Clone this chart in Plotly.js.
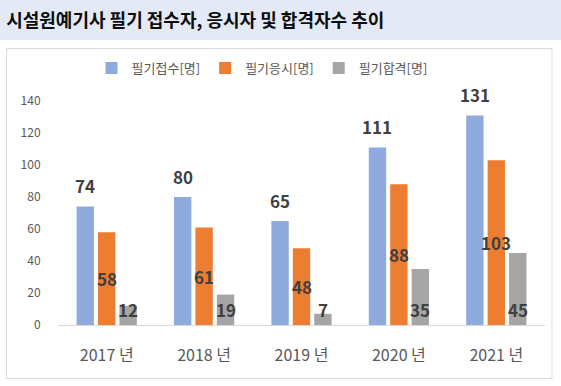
<!DOCTYPE html>
<html>
<head>
<meta charset="utf-8">
<script src="https://cdn.plot.ly/plotly-3.0.1.min.js"></script>
<style>html,body{margin:0;padding:0;background:#fff;}#chart{width:561px;height:386px;}</style>
</head>
<body>
<div id="chart"></div>
<script>
const years = ['2017 년', '2018 년', '2019 년', '2020 년', '2021 년'];
const applicants = [74, 80, 65, 111, 131];
const examinees = [58, 61, 48, 88, 103];
const passers = [12, 19, 7, 35, 45];
const seriesNames = ['필기접수[명]', '필기응시[명]', '필기합격[명]'];
const seriesColors = ['#8faadc', '#ed7d31', '#a5a5a5'];

const FONT = 'Noto Sans CJK KR, Noto Sans, sans-serif';
const bargap = 0.34;
const slot = (1 - bargap) / 3;

const series = [applicants, examinees, passers];
const traces = series.map((vals, k) => ({
  type: 'bar',
  name: seriesNames[k],
  x: years,
  y: vals,
  marker: {color: seriesColors[k]},
  hoverinfo: 'skip'
}));

const labelFont = {family: FONT, size: 17, color: '#404040'};
const annotations = [];
years.forEach((yr, i) => {
  annotations.push({x: i - slot, y: applicants[i], xref: 'x', yref: 'y', yshift: 21,
    text: '<b>' + applicants[i] + '</b>', showarrow: false, font: labelFont});
  annotations.push({x: i, y: examinees[i] / 2, xref: 'x', yref: 'y',
    text: '<b>' + examinees[i] + '</b>', showarrow: false, font: labelFont});
  annotations.push({x: i + slot, y: 0, xref: 'x', yref: 'y', yshift: 16,
    text: '<b>' + passers[i] + '</b>', showarrow: false, font: labelFont});
});

const layout = {
  width: 561, height: 386,
  margin: {l: 58, r: 16, t: 101, b: 61},
  paper_bgcolor: '#ffffff', plot_bgcolor: '#ffffff',
  font: {family: FONT, color: '#595959'},
  title: {
    text: '<b>시설원예기사 필기 접수자, 응시자 및 합격자수 추이</b>',
    font: {family: FONT, size: 18, color: '#0d0d0d'},
    xref: 'container', x: 0.011, xanchor: 'left',
    yref: 'container', y: 0.946, yanchor: 'middle'
  },
  barmode: 'group',
  bargap: bargap,
  bargroupgap: 0.19,
  xaxis: {
    type: 'category', showgrid: false, zeroline: false,
    showline: true, linecolor: '#d9d9d9', linewidth: 1,
    ticks: 'outside', ticklen: 16, tickcolor: 'rgba(0,0,0,0)',
    tickfont: {family: FONT, size: 16, color: '#595959'},
    fixedrange: true
  },
  yaxis: {
    range: [0, 140], dtick: 20, showgrid: false, zeroline: false, showline: false,
    ticks: 'outside', ticklen: 14, tickcolor: 'rgba(0,0,0,0)',
    tickfont: {family: FONT, size: 12, color: '#595959'},
    fixedrange: true
  },
  legend: {
    orientation: 'h', x: 0.419, xanchor: 'center', y: 1.147, yanchor: 'middle',
    font: {family: FONT, size: 13, color: '#595959'},
    itemwidth: 30, bgcolor: 'rgba(0,0,0,0)', itemclick: false, itemdoubleclick: false
  },
  shapes: [
    {type: 'rect', xref: 'paper', yref: 'paper', x0: -58/487, x1: 503/487, y0: 285/224, y1: 325/224,
     fillcolor: '#e3eaf6', line: {width: 0}, layer: 'below'},
    {type: 'rect', xref: 'paper', yref: 'paper', x0: -51.5/487, x1: 494/487, y0: -53.5/224, y1: 276.5/224,
     fillcolor: 'rgba(0,0,0,0)', line: {color: '#d9d9d9', width: 1}, layer: 'below'}
  ],
  annotations: annotations,
  showlegend: true
};

Plotly.newPlot('chart', traces, layout, {displayModeBar: false, staticPlot: true});
</script>
</body>
</html>
